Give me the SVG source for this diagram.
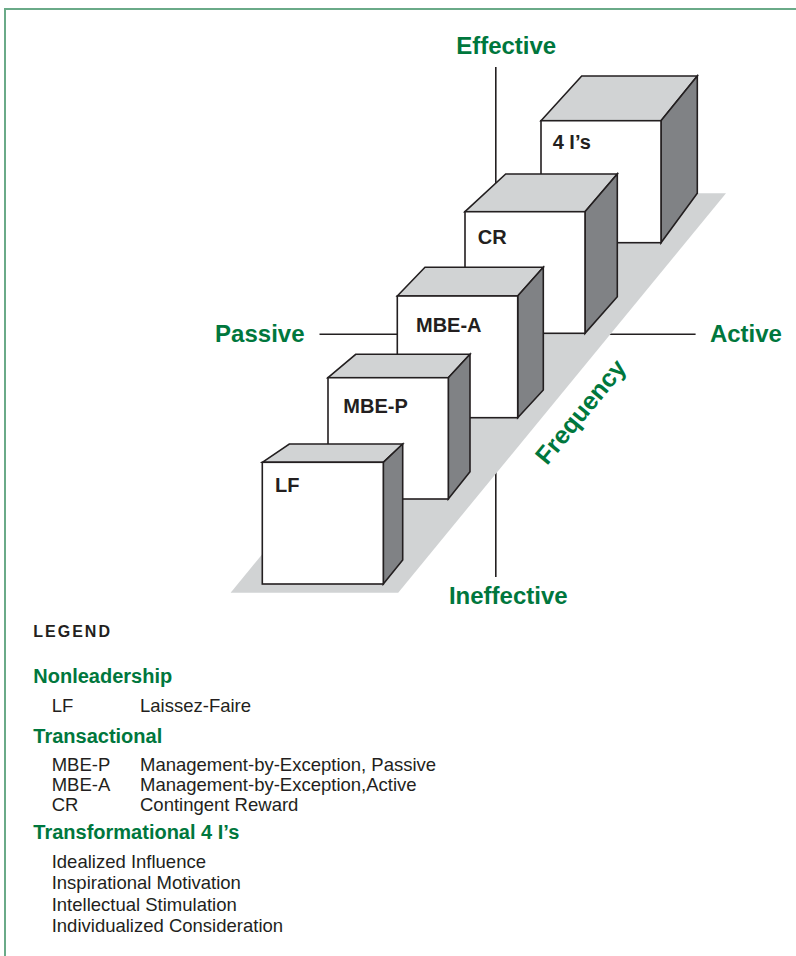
<svg xmlns="http://www.w3.org/2000/svg" width="796" height="956" viewBox="0 0 796 956">
<style>
.frame{fill:none;stroke:#6aaa88;stroke-width:2}
.axis{stroke:#231f20;stroke-width:1.6;fill:none}
.plat{fill:#d1d3d4}
.front{fill:#ffffff;stroke:#231f20;stroke-width:1.6;stroke-linejoin:miter}
.top{fill:#d1d3d4;stroke:#231f20;stroke-width:1.6;stroke-linejoin:miter}
.side{fill:#808285;stroke:#231f20;stroke-width:1.6;stroke-linejoin:miter}
.ax{font-family:"Liberation Sans",Arial,sans-serif;font-weight:bold;font-size:24px;fill:#00773d}
.lbl{font-family:"Liberation Sans",Arial,sans-serif;font-weight:bold;font-size:20px;fill:#231f20}
.lh{font-family:"Liberation Sans",Arial,sans-serif;font-weight:bold;font-size:16px;fill:#231f20;letter-spacing:2px}
.lg{font-family:"Liberation Sans",Arial,sans-serif;font-weight:bold;font-size:20px;fill:#00773d}
.lt{font-family:"Liberation Sans",Arial,sans-serif;font-size:18.5px;fill:#231f20}
</style>
<rect class="frame" x="5" y="9" width="800" height="960"/>
<g id="connectors">
<line class="axis" x1="495.8" y1="67" x2="495.8" y2="210"/>
<line class="axis" x1="495.8" y1="460" x2="495.8" y2="577"/>
<line class="axis" x1="319.5" y1="334.3" x2="400" y2="334.3"/>
<line class="axis" x1="600" y1="334.3" x2="695.6" y2="334.3"/>
</g>
<g id="platform">
<polygon class="plat" points="230.6,592.7 398.2,592.7 726,193.3 558.4,193.3"/>
</g>
<g id="cube-4is">
<polygon class="top" points="541,120.7 581.7,76 697.3,76 661,120.7"/>
<polygon class="side" points="661,120.7 697.3,76 697.3,193.3 661,242.7"/>
<rect class="front" x="541" y="120.7" width="120" height="122"/>
<text class="lbl" x="552.7" y="149.3">4 I’s</text>
</g>
<g id="cube-cr">
<polygon class="top" points="465,211.7 505.7,174 617.3,174 585,211.7"/>
<polygon class="side" points="585,211.7 617.3,174 617.3,296.7 585,333.3"/>
<rect class="front" x="465" y="211.7" width="120" height="121.6"/>
<text class="lbl" x="477.7" y="244">CR</text>
</g>
<g id="cube-mbea">
<polygon class="top" points="397.3,296 425,267.3 543.3,267.3 517.7,296"/>
<polygon class="side" points="517.7,296 543.3,267.3 543.3,390 517.7,417.7"/>
<rect class="front" x="397.3" y="296" width="120.4" height="121.7"/>
<text class="lbl" x="416" y="331.7">MBE-A</text>
</g>
<g id="cube-mbep">
<polygon class="top" points="328,377.7 355.7,354.3 470,354.3 448.3,377.7"/>
<polygon class="side" points="448.3,377.7 470,354.3 470,471.7 448.3,499"/>
<rect class="front" x="328" y="377.7" width="120.3" height="121.3"/>
<text class="lbl" x="343.3" y="412.7">MBE-P</text>
</g>
<g id="cube-lf">
<polygon class="top" points="262.3,462.3 289.3,444 402.7,444 383.3,462.3"/>
<polygon class="side" points="383.3,462.3 402.7,444 402.7,560 383.3,584"/>
<rect class="front" x="262.3" y="462.3" width="121" height="121.7"/>
<text class="lbl" x="275" y="492.3">LF</text>
</g>
<g id="label-effective"><text class="ax" x="506.2" y="54.3" text-anchor="middle">Effective</text></g>
<g id="label-ineffective"><text class="ax" x="508.3" y="604" text-anchor="middle">Ineffective</text></g>
<g id="label-passive"><text class="ax" x="259.8" y="341.7" text-anchor="middle">Passive</text></g>
<g id="label-active"><text class="ax" x="745.9" y="341.7" text-anchor="middle">Active</text></g>
<g id="label-frequency"><text class="ax" style="font-size:25px" transform="translate(581,412) rotate(-50.6)" x="0" y="8" text-anchor="middle">Frequency</text></g>
<g id="legend">
<text class="lh" x="33.3" y="636.7">LEGEND</text>
<text class="lg" x="33.3" y="683.3">Nonleadership</text>
<text class="lt" x="51.7" y="712.3">LF</text>
<text class="lt" x="140" y="712.3">Laissez-Faire</text>
<text class="lg" x="33.3" y="742.7">Transactional</text>
<text class="lt" x="51.7" y="771">MBE-P</text>
<text class="lt" x="140" y="771">Management-by-Exception, Passive</text>
<text class="lt" x="51.7" y="791">MBE-A</text>
<text class="lt" x="140" y="791">Management-by-Exception,Active</text>
<text class="lt" x="51.7" y="811">CR</text>
<text class="lt" x="140" y="811">Contingent Reward</text>
<text class="lg" x="33.3" y="839.3">Transformational 4 I’s</text>
<text class="lt" x="51.7" y="868.3">Idealized Influence</text>
<text class="lt" x="51.7" y="889.3">Inspirational Motivation</text>
<text class="lt" x="51.7" y="910.7">Intellectual Stimulation</text>
<text class="lt" x="51.7" y="931.7">Individualized Consideration</text>
</g>
</svg>
